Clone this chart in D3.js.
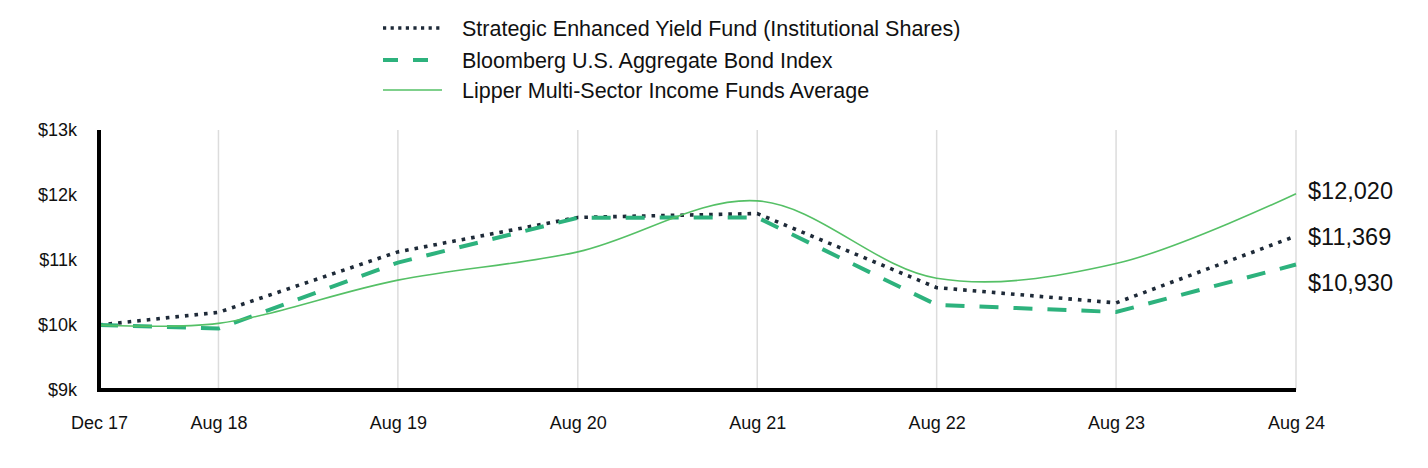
<!DOCTYPE html>
<html>
<head>
<meta charset="utf-8">
<script src="https://cdn.jsdelivr.net/npm/d3@7"></script>
<style>
  html, body { margin: 0; padding: 0; background: #ffffff; }
  svg { display: block; font-family: "Liberation Sans", Arial, Helvetica, sans-serif; }
</style>
</head>
<body>
<svg id="chart" width="1428" height="468"></svg>
<script>
// ---- data ----
const dates = ["2017-12", "2018-08", "2019-08", "2020-08", "2021-08", "2022-08", "2023-08", "2024-08"];
const xTickLabels = ["Dec 17", "Aug 18", "Aug 19", "Aug 20", "Aug 21", "Aug 22", "Aug 23", "Aug 24"];
const fundValues = [10000, 10195, 11125, 11655, 11715, 10575, 10340, 11369];
const bondValues = [10000, 9945, 10960, 11650, 11655, 10310, 10200, 10930];
const lipperValues = [10000, 10025, 10690, 11125, 11910, 10720, 10945, 12020];
const yTicks = [9000, 10000, 11000, 12000, 13000];
const yTickLabels = ["$9k", "$10k", "$11k", "$12k", "$13k"];
const seriesNames = [
  "Strategic Enhanced Yield Fund (Institutional Shares)",
  "Bloomberg U.S. Aggregate Bond Index",
  "Lipper Multi-Sector Income Funds Average"
];
const endLabels = ["$11,369", "$10,930", "$12,020"];

(function () {
// ---- setup ----
const parse = d3.timeParse("%Y-%m");
const xDates = dates.map(parse);
const svg = d3.select("#chart");
const mLeft = 99, mRight = 1296, mTop = 130, mBottom = 390;

const x = d3.scaleTime().domain([xDates[0], xDates[xDates.length - 1]]).range([mLeft, mRight]);
const y = d3.scaleLinear().domain([9000, 13000]).range([mBottom, mTop]);

const styles = [
  { color: "#1e2a38", width: 3.6, dash: "3.6,6", curve: d3.curveLinear, legendDash: "3.2,4.4", legendWidth: 3.4 },
  { color: "#2db27d", width: 4, dash: "19,15", curve: d3.curveLinear, legendDash: "15,15", legendWidth: 4 },
  { color: "#55c066", width: 1.6, dash: null, curve: d3.curveCatmullRom.alpha(0.5), legendDash: null, legendWidth: 1.6 }
];
const allValues = [fundValues, bondValues, lipperValues];

// gridlines (vertical)
svg.append("g")
  .selectAll("line")
  .data(xDates.slice(1))
  .join("line")
  .attr("x1", d => x(d)).attr("x2", d => x(d))
  .attr("y1", mTop).attr("y2", mBottom)
  .attr("stroke", "#dcdcdc").attr("stroke-width", 1.5);

// y axis labels
const yAxis = d3.axisLeft(y).tickValues(yTicks).tickFormat((d, i) => yTickLabels[i]).tickSize(0).tickPadding(22);
const gy = svg.append("g").attr("transform", `translate(${mLeft},0)`).call(yAxis);
gy.select(".domain").remove();
gy.selectAll("text").attr("font-size", 18).attr("fill", "#111").attr("font-family", "Liberation Sans, Arial, sans-serif");

// x axis labels
const xAxis = d3.axisBottom(x).tickValues(xDates).tickFormat((d, i) => xTickLabels[i]).tickSize(0).tickPadding(26);
const gx = svg.append("g").attr("transform", `translate(0,${mBottom})`).call(xAxis);
gx.select(".domain").remove();
gx.selectAll("text").attr("font-size", 18).attr("fill", "#111").attr("font-family", "Liberation Sans, Arial, sans-serif");

// series lines
allValues.forEach((vals, i) => {
  const s = styles[i];
  const line = d3.line().x((d, j) => x(xDates[j])).y(d => y(d)).curve(s.curve);
  const p = svg.append("path")
    .datum(vals)
    .attr("d", line)
    .attr("fill", "none")
    .attr("stroke", s.color)
    .attr("stroke-width", s.width);
  if (s.dash) p.attr("stroke-dasharray", s.dash);
});

// axis lines (thick black)
svg.append("line").attr("x1", mLeft).attr("x2", mLeft).attr("y1", mTop).attr("y2", mBottom + 2)
  .attr("stroke", "#000").attr("stroke-width", 4);
svg.append("line").attr("x1", mLeft - 2).attr("x2", mRight).attr("y1", mBottom).attr("y2", mBottom)
  .attr("stroke", "#000").attr("stroke-width", 4);

// end labels with simple collision avoidance
const ends = allValues.map((vals, i) => ({ text: endLabels[i], y: y(vals[vals.length - 1]) }))
  .sort((a, b) => a.y - b.y);
const gap = 46;
for (let i = 1; i < ends.length; i++) {
  if (ends[i].y < ends[i - 1].y + gap) ends[i].y = ends[i - 1].y + gap;
}
const shift = -3;
svg.append("g").selectAll("text")
  .data(ends)
  .join("text")
  .attr("x", mRight + 12)
  .attr("y", d => d.y + shift)
  .attr("dy", "0.35em")
  .attr("font-size", 23.5)
  .attr("fill", "#111")
  .text(d => d.text);

// legend
const legendX = 383, legendTextX = 462;
const legendY = [28, 60, 90];
const lg = svg.append("g");
seriesNames.forEach((name, i) => {
  const s = styles[i];
  const l = lg.append("line")
    .attr("x1", legendX).attr("x2", legendX + 59)
    .attr("y1", legendY[i]).attr("y2", legendY[i])
    .attr("stroke", s.color).attr("stroke-width", s.legendWidth);
  if (s.legendDash) l.attr("stroke-dasharray", s.legendDash);
  lg.append("text")
    .attr("x", legendTextX).attr("y", legendY[i])
    .attr("dy", "0.35em")
    .attr("font-size", 21.5)
    .attr("fill", "#111")
    .text(name);
});
})();
</script>
</body>
</html>
